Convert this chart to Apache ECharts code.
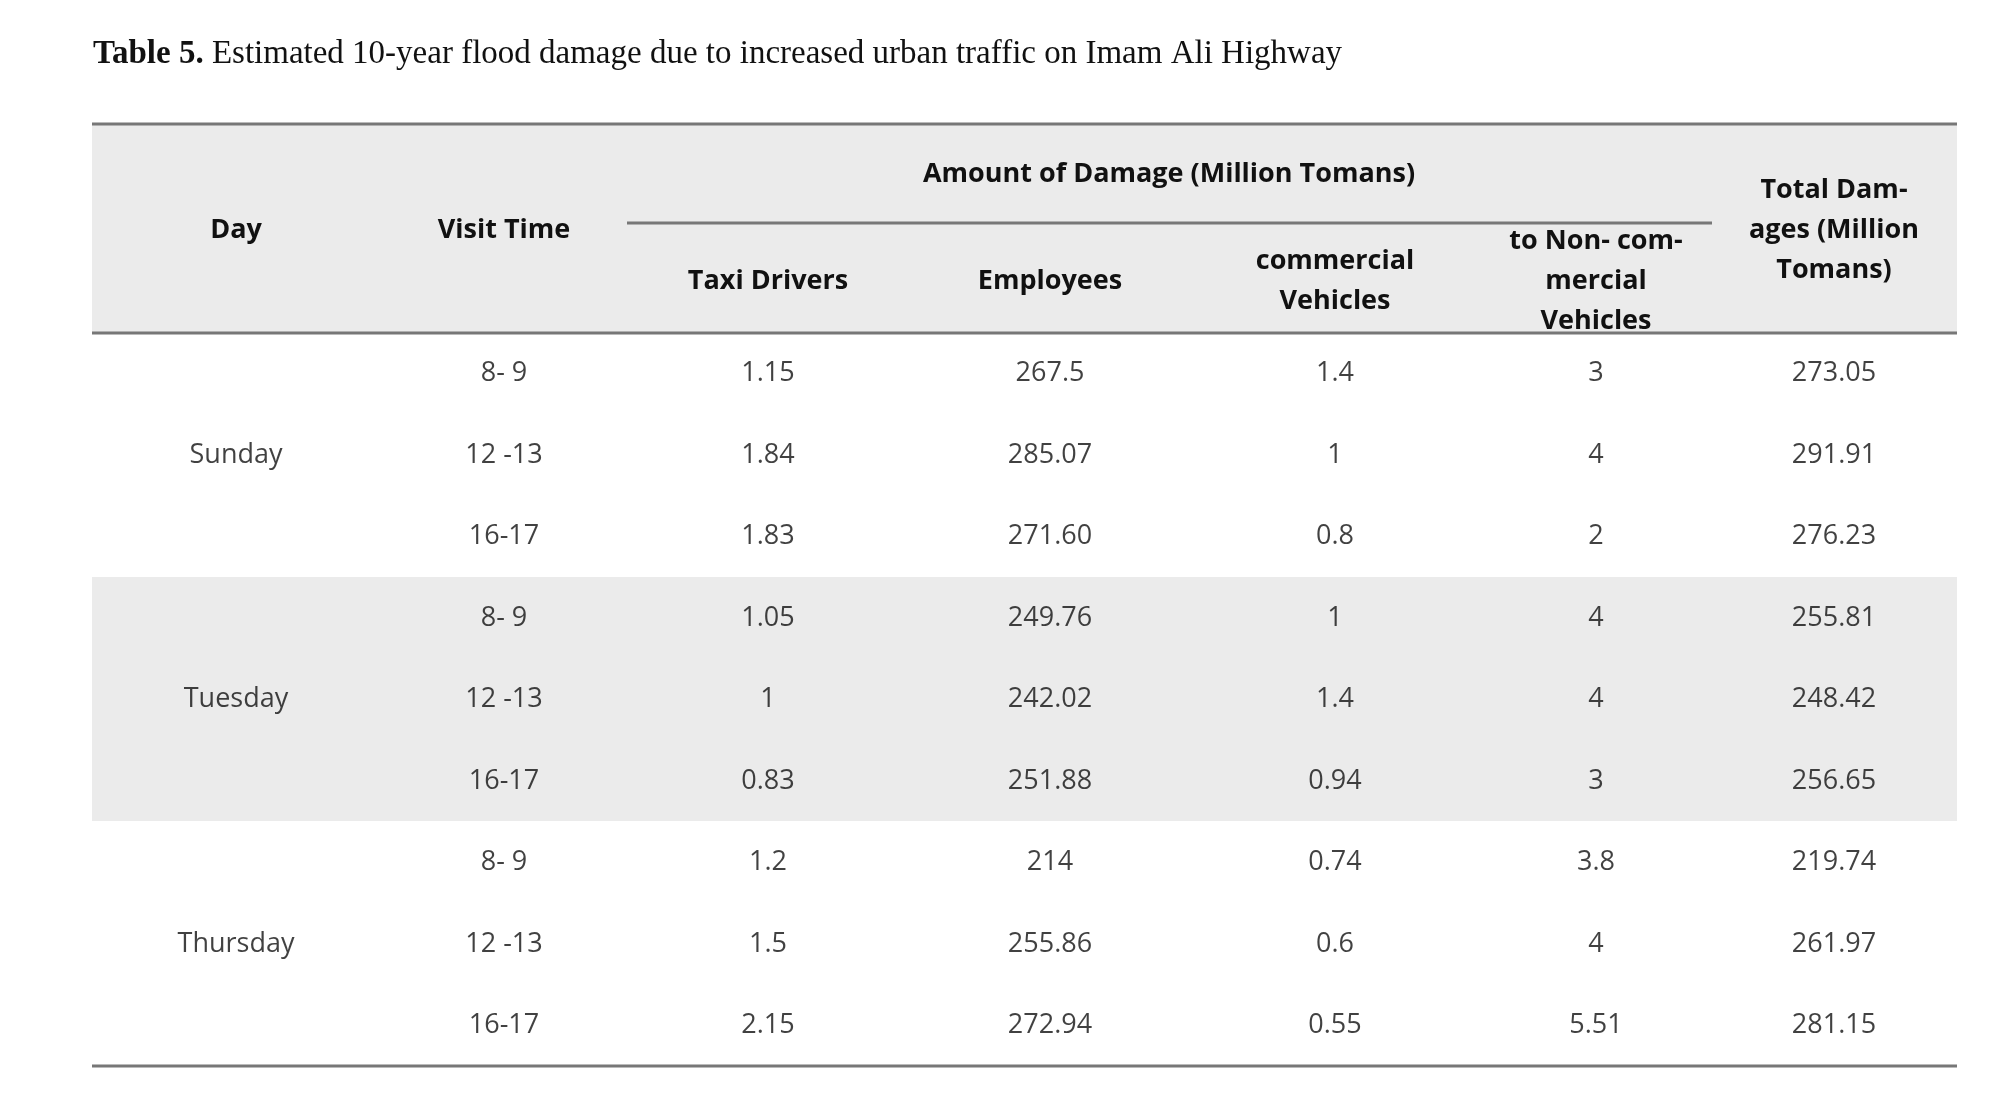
<!DOCTYPE html>
<html>
<head>
<meta charset="utf-8">
<script src="https://cdn.jsdelivr.net/npm/echarts@6/dist/echarts.min.js"></script>
<style>
  html, body { margin: 0; padding: 0; background: #fff; }
  #chart { width: 2000px; height: 1115px; }
</style>
</head>
<body>
<div id="chart"></div>
<script>
// Table data
const days = ['Sunday', 'Tuesday', 'Thursday'];
const visitTimes = ['8- 9', '12 -13', '16-17', '8- 9', '12 -13', '16-17', '8- 9', '12 -13', '16-17'];
const taxiDrivers = ['1.15', '1.84', '1.83', '1.05', '1', '0.83', '1.2', '1.5', '2.15'];
const employees = ['267.5', '285.07', '271.60', '249.76', '242.02', '251.88', '214', '255.86', '272.94'];
const commercial = ['1.4', '1', '0.8', '1', '1.4', '0.94', '0.74', '0.6', '0.55'];
const nonCommercial = ['3', '4', '2', '4', '4', '3', '3.8', '4', '5.51'];
const totals = ['273.05', '291.91', '276.23', '255.81', '248.42', '256.65', '219.74', '261.97', '281.15'];

// Column centres (layout only)
const COL_X = [236, 504, 768, 1050, 1335, 1596, 1834];
const FONT = '"Open Sans", "Noto Sans", sans-serif';
const rowIds = visitTimes.map((_, i) => String(i));

const chart = echarts.init(document.getElementById('chart'));

function cellSeries(colIdx, values) {
    return {
        type: 'scatter',
        symbolSize: 0,
        silent: true,
        data: values.map((v, i) => v === null ? null : { value: [COL_X[colIdx], rowIds[i]], text: v }),
        label: {
            show: true,
            position: 'inside',
            color: '#111',
            fontFamily: FONT,
            fontSize: 27,
            formatter: p => p.data.text
        }
    };
}

const dayColumn = visitTimes.map((_, i) => (i % 3 === 1 ? days[Math.floor(i / 3)] : null));

const hdr = (text, x, y, bold = true) => ({
    type: 'text',
    x, y,
    style: {
        text, x: 0, y: 0, align: 'center', verticalAlign: 'middle',
        font: `${bold ? 'bold' : 'normal'} 27px ${FONT}`, fill: '#111',
        lineHeight: 40
    }
});

const option = {
    backgroundColor: '#fff',
    animation: false,
    grid: { left: 0, right: 0, top: 333, bottom: 49 },
    xAxis: { type: 'value', min: 0, max: 2000, show: false },
    yAxis: { type: 'category', data: rowIds, inverse: true, show: false },
    graphic: [
        { type: 'rect', shape: { x: 92, y: 124, width: 1865, height: 209 }, style: { fill: '#ebebeb' }, z: -10 },
        { type: 'rect', shape: { x: 92, y: 577, width: 1865, height: 244 }, style: { fill: '#ebebeb' }, z: -10 },
        { type: 'line', shape: { x1: 92, y1: 124, x2: 1957, y2: 124 }, style: { stroke: '#777', lineWidth: 3 } },
        { type: 'line', shape: { x1: 627, y1: 223, x2: 1712, y2: 223 }, style: { stroke: '#777', lineWidth: 3 } },
        { type: 'line', shape: { x1: 92, y1: 333, x2: 1957, y2: 333 }, style: { stroke: '#777', lineWidth: 3 } },
        { type: 'line', shape: { x1: 92, y1: 1066, x2: 1957, y2: 1066 }, style: { stroke: '#777', lineWidth: 3 } },
        {
            type: 'text', x: 93, y: 54,
            style: {
                text: '{b|Table 5.} Estimated 10-year flood damage due to increased urban traffic on Imam Ali Highway',
                verticalAlign: 'middle',
                font: 'normal 33px "Liberation Serif", serif', fill: '#111',
                rich: { b: { fontWeight: 'bold', fontSize: 33, fontFamily: '"Liberation Serif", serif' } }
            }
        },
        hdr('Amount of Damage (Million Tomans)', 1169, 174),
        hdr('Day', COL_X[0], 230),
        hdr('Visit Time', COL_X[1], 230),
        hdr('Taxi Drivers', COL_X[2], 281),
        hdr('Employees', COL_X[3], 281),
        hdr('commercial\nVehicles', COL_X[4], 281),
        hdr('to Non- com-\nmercial\nVehicles', COL_X[5], 281),
        hdr('Total Dam-\nages (Million\nTomans)', COL_X[6], 230)
    ],
    series: [
        cellSeries(0, dayColumn),
        cellSeries(1, visitTimes),
        cellSeries(2, taxiDrivers),
        cellSeries(3, employees),
        cellSeries(4, commercial),
        cellSeries(5, nonCommercial),
        cellSeries(6, totals)
    ]
};

chart.setOption(option);
</script>
</body>
</html>
